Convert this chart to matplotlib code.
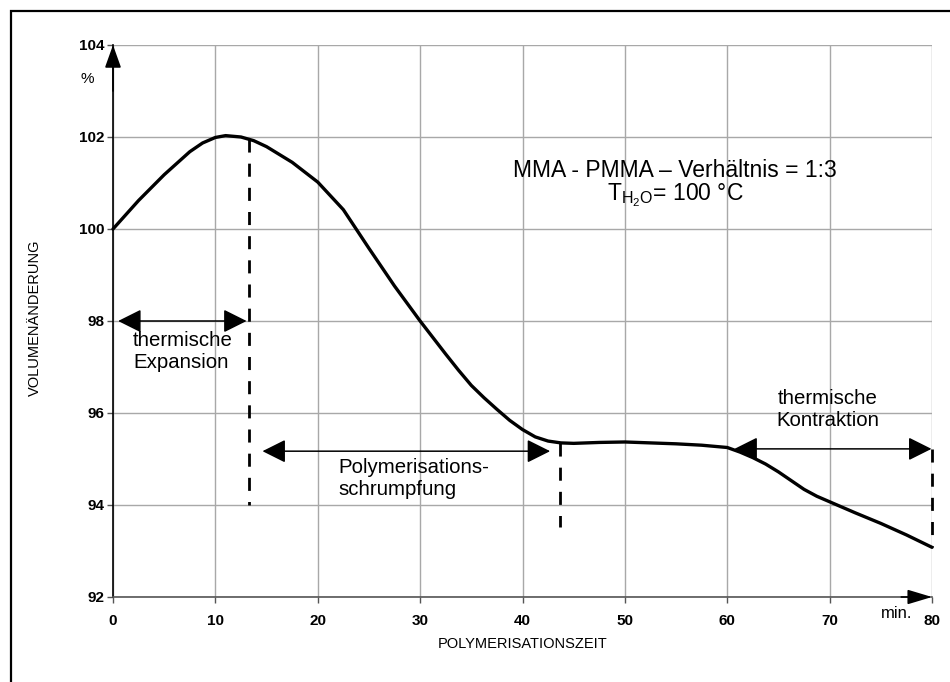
import matplotlib.pyplot as plt
from matplotlib.patches import Rectangle

plt.rcParams['font.family'] = ['Liberation Sans', 'DejaVu Sans']
plt.rcParams['mathtext.default'] = 'regular'

# Volume change curve
zeit = [0, 2.5, 5, 7.5, 8.75, 10, 11, 12.5, 13.75, 15, 17.5, 20, 22.5, 25,
        27.5, 30, 32.5, 33.75, 35, 36.25, 37.5, 38.75, 40, 41.25, 42.5, 43.75,
        45, 47.5, 50, 52.5, 55, 57.5, 60, 61.25, 62.5, 63.75, 65, 66.25, 67.5,
        68.75, 70, 72.5, 75, 77.5, 80]
volumen = [100.0, 100.62, 101.18, 101.68, 101.87, 101.99, 102.03, 102.0,
           101.92, 101.79, 101.45, 101.02, 100.42, 99.58, 98.76, 98.0, 97.28,
           96.93, 96.6, 96.33, 96.08, 95.84, 95.64, 95.48, 95.39, 95.35, 95.34,
           95.36, 95.37, 95.35, 95.33, 95.3, 95.25, 95.15, 95.03, 94.89, 94.72,
           94.53, 94.34, 94.19, 94.07, 93.83, 93.6, 93.35, 93.08]

x_ticks = [0, 10, 20, 30, 40, 50, 60, 70, 80]
y_ticks = [92, 94, 96, 98, 100, 102, 104]

# double arrows: (x_start, x_end, y)
pfeile = [(0.5, 13.05, 98.0), (14.6, 42.7, 95.17), (60.7, 79.95, 95.22)]
# dashed markers: (x, y_top, y_bottom)
markierungen = [(13.3, 101.95, 94.0), (43.7, 95.35, 93.52), (80, 95.22, 93.08)]

fig = plt.figure(figsize=(9.5, 6.82), dpi=100)
ax = fig.add_axes([113 / 950, 1 - 597 / 682, 819 / 950, 552 / 682])

ax.set_xlim(0, 80)
ax.set_ylim(92, 104)
ax.set_xticks(x_ticks)
ax.set_yticks(y_ticks)
ax.set_xticklabels([str(t) for t in x_ticks], fontweight='bold', fontsize=11)
ax.set_yticklabels([str(t) for t in y_ticks], fontweight='bold', fontsize=11)
ax.tick_params(direction='out', length=4, width=1, color='#555555', pad=8)
ax.tick_params(axis='y', pad=2)
ax.grid(True, color='#a8a8a8', linewidth=1)
ax.set_axisbelow(True)

for s in ['top', 'right']:
    ax.spines[s].set_visible(False)
ax.spines['left'].set_color('black')
ax.spines['left'].set_linewidth(1.2)
ax.spines['bottom'].set_color('#555555')
ax.spines['bottom'].set_linewidth(1.2)

# axis arrows
ax.annotate('', xy=(0, 104), xytext=(0, 103), annotation_clip=False,
            arrowprops=dict(arrowstyle='-|>,head_length=1.4,head_width=0.5',
                            color='black', lw=1.2, shrinkA=0, shrinkB=0))
ax.annotate('', xy=(80, 92), xytext=(77, 92), annotation_clip=False,
            arrowprops=dict(arrowstyle='-|>,head_length=1.5,head_width=0.45',
                            color='black', lw=1.2, shrinkA=0, shrinkB=0))

ax.plot(zeit, volumen, color='black', linewidth=2.4, solid_joinstyle='round',
        solid_capstyle='round', clip_on=False, zorder=5)

for x, y0, y1 in markierungen:
    ax.plot([x, x], [y0, y1], color='black', linewidth=2,
            linestyle=(0, (4.7, 4)), clip_on=False, zorder=4)

for x0, x1, y in pfeile:
    ax.annotate('', xy=(x1, y), xytext=(x0, y), annotation_clip=False,
                arrowprops=dict(arrowstyle='<|-|>,head_length=1.44,head_width=0.72',
                                color='black', lw=1.1, shrinkA=0, shrinkB=0))

ax.text(1.95, 97.78, 'thermische\nExpansion', fontsize=14.7, va='top', ha='left')
ax.text(22.0, 95.03, 'Polymerisations-\nschrumpfung', fontsize=14.7,
        va='top', ha='left')
ax.text(69.8, 96.07, 'thermische\nKontraktion', fontsize=14.7,
        va='center', ha='center')
ax.text(54.9, 101.28, 'MMA - PMMA \u2013 Verh\u00e4ltnis = 1:3', fontsize=16.5,
        va='center', ha='center')
ax.text(54.9, 100.74, 'T$_{H_2O}$= 100 \u00b0C', fontsize=16.5,
        va='center', ha='center')

fig.text(87 / 950, 1 - 79 / 682, '%', fontsize=11, ha='center', va='center')
fig.text(897 / 950, 1 - 613 / 682, 'min.', fontsize=12, ha='center', va='center')
fig.text(35 / 950, 1 - 318 / 682, 'VOLUMEN\u00c4NDERUNG', fontsize=10.5,
         rotation=90, ha='center', va='center')
fig.text(523 / 950, 1 - 644 / 682, 'POLYMERISATIONSZEIT', fontsize=10.5,
         ha='center', va='center')

# outer frame
fig.patches.append(Rectangle((11 / 950, -0.1), 1.2, 1 - 11 / 682 + 0.1,
                             transform=fig.transFigure, fill=False,
                             edgecolor='black', linewidth=1.6))

fig.savefig('out.png', dpi=100)
